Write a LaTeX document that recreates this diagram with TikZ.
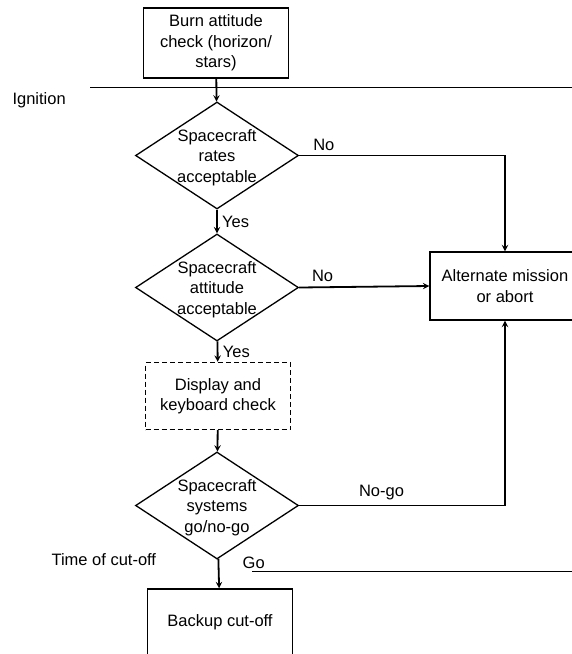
\documentclass[tikz,border=0pt]{standalone}
\usepackage{fontspec}
\setmainfont{Liberation Sans}
\usetikzlibrary{shapes.geometric}
\newcommand{\dtext}[1]{\smash{\makebox[0pt]{\raisebox{-6.5pt}{\begin{tabular}{@{}c@{}}#1\end{tabular}}}}}
\begin{document}
\begin{tikzpicture}[>=stealth,x=1pt,y=-1pt,font=\fontsize{16.5}{20.5}\selectfont,
  box/.style={draw,line width=1.4pt,minimum width=145pt,minimum height=67pt,align=center,inner sep=2pt},
  decision/.style={draw,diamond,line width=1.3pt,minimum width=163pt,minimum height=107pt,inner sep=0pt},
  flow/.style={->,line width=1.8pt}]
\useasboundingbox (0,0) rectangle (572,654);
% time marks
\coordinate (ign0) at (90,87.5);
\coordinate (ign1) at (572,87.5);
\draw[line width=0.9pt] (ign0) -- (ign1);
\node[anchor=west] (ignition) at (9,100) {Ignition};
\coordinate (cut0) at (252,571.5);
\coordinate (cut1) at (572,571.5);
\draw[line width=0.9pt] (cut0) -- (cut1);
\node[anchor=west] (cutoff) at (48,560) {Time of cut-off};
% boxes and decisions
\node[box,minimum height=70pt] (burn) at (216,43) {Burn attitude\\check (horizon/\\stars)};
\node[decision] (rates) at (217,155.5) {\dtext{Spacecraft\\rates\\acceptable}};
\node[decision] (att) at (217,287.5) {\dtext{Spacecraft\\attitude\\acceptable}};
\node[box,dash pattern=on 5pt off 3pt] (disp) at (218,396) {Display and\\keyboard check};
\node[decision] (sys) at (217,505.5) {\dtext{Spacecraft\\systems\\go/no-go}};
\node[box] (backup) at (220,622.5) {Backup cut-off};
\node[box,minimum width=150pt,minimum height=68pt] (alt) at (505,286) {Alternate mission\\or abort};
% connectors
\draw[flow] (burn) -- (rates);
\draw[flow] (rates) -- node[right=1pt]{Yes} (att);
\draw[flow] (att) -- node[right=1pt]{Yes} (disp);
\draw[flow] (disp) -- (sys);
\draw[flow] (sys) -- node[pos=0.15,right=20pt]{Go} (backup);
\draw[flow] (rates.east) -| node[pos=0.06,above=1pt]{No} (alt.north);
\draw[flow] (att.east) -- node[pos=0.18,above=1pt]{No} (alt.west);
\draw[flow] (sys.east) -| node[pos=0.2,above=1pt]{No-go} (alt.south);
\end{tikzpicture}
\end{document}
